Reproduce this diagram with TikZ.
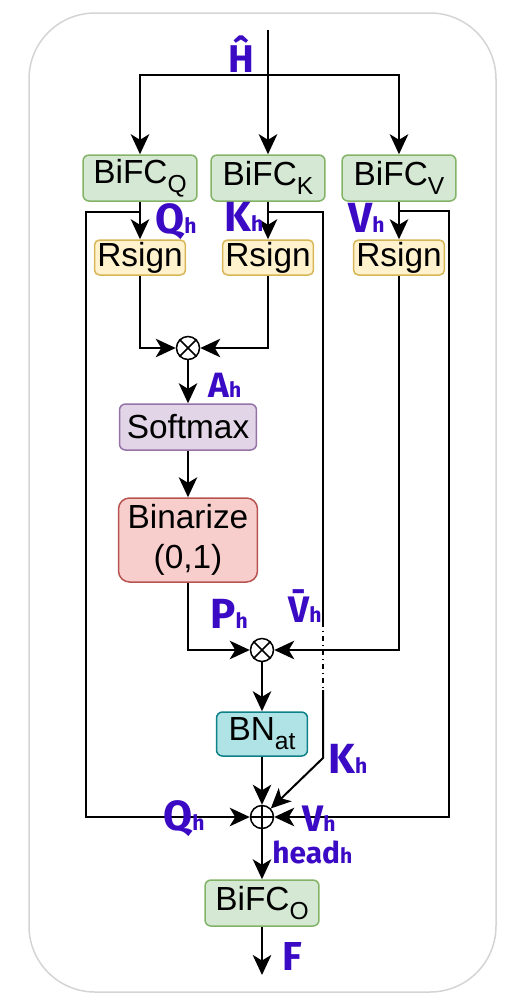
\documentclass[tikz,border=0pt]{standalone}
\usepackage{fontspec}
\setmainfont{Liberation Sans}
\newfontfamily\handfont{Fira Sans}
\usetikzlibrary{arrows.meta,calc}
\definecolor{hand}{RGB}{58,10,196}
\definecolor{gfill}{HTML}{D5E8D4}\definecolor{gline}{HTML}{82B366}
\definecolor{yfill}{HTML}{FFF2CC}\definecolor{yline}{HTML}{D6B656}
\definecolor{pfill}{HTML}{E1D5E7}\definecolor{pline}{HTML}{9673A6}
\definecolor{rfill}{HTML}{F8CECC}\definecolor{rline}{HTML}{B85450}
\definecolor{tfill}{HTML}{B0E3E6}\definecolor{tline}{HTML}{0E8088}
\definecolor{frame}{HTML}{D4D4D4}
\newcommand\subtx[1]{\raisebox{-5pt}{\fontsize{14}{14}\selectfont #1}}
\newcommand\lh{{\fontsize{12}{12}\selectfont h}}
\begin{document}
\begin{tikzpicture}[x=0.02cm,y=-0.02cm,
  box/.style={draw, rounded corners=0.12cm, line width=0.03cm, inner sep=0pt,
    font=\fontsize{19}{22.7}\selectfont, align=center},
  gbox/.style={box, fill=gfill, draw=gline, minimum width=2.28cm, minimum height=0.92cm},
  ybox/.style={box, fill=yfill, draw=yline, minimum width=1.82cm, minimum height=0.70cm, rounded corners=0.1cm},
  pbox/.style={box, fill=pfill, draw=pline, minimum width=2.74cm, minimum height=0.92cm},
  rbox/.style={box, fill=rfill, draw=rline, minimum width=2.78cm, minimum height=1.68cm, rounded corners=0.22cm},
  tbox/.style={box, fill=tfill, draw=tline, minimum width=1.82cm, minimum height=0.88cm},
  ln/.style={line width=0.04cm},
  arr/.style={ln, -{Stealth[length=0.4cm,width=0.37cm,inset=0.11cm]}},
  opc/.style={circle, draw, line width=0.03cm, minimum size=0.46cm, inner sep=0pt, fill=white},
  lab/.style={text=hand, anchor=base west, inner sep=0pt,
    font=\handfont\bfseries\fontsize{24}{24}\selectfont}
]
\useasboundingbox (0,0) rectangle (512,1005);
\draw[frame, line width=0.03cm, rounded corners=1.32cm] (29,13) rectangle (496,992);

% nodes
\node[gbox] (bq) at (140,178) {BiFC\subtx{Q}};
\node[gbox] (bk) at (268,178) {BiFC\subtx{K}};
\node[gbox] (bv) at (399,178) {BiFC\subtx{V}};
\node[ybox] (rq) at (140,257.5) {Rsign};
\node[ybox] (rk) at (268,257.5) {Rsign};
\node[ybox] (rv) at (399,257.5) {Rsign};
\node[opc] (m1) at (188,348) {};
\node[pbox] (sm) at (188,427) {Softmax};
\node[rbox] (bz) at (188,540) {Binarize\\(0,1)};
\node[opc] (m2) at (262,650) {};
\node[tbox] (bn) at (262,734) {BN\subtx{at}};
\node[opc] (pl) at (262,817) {};
\node[gbox] (bo) at (262,903) {BiFC\subtx{O}};

\draw[line width=0.03cm] (m1.north west) -- (m1.south east) (m1.north east) -- (m1.south west);
\draw[line width=0.03cm] (m2.north west) -- (m2.south east) (m2.north east) -- (m2.south west);
\draw[line width=0.03cm] (pl.north) -- (pl.south) (pl.west) -- (pl.east);

% coordinates
\coordinate (in) at (268,30);
\coordinate (sp) at (268,75);
\coordinate (qs) at (140,212);
\coordinate (qc) at (86,817);
\coordinate (ks) at (268,212);
\coordinate (k1) at (323,622);
\coordinate (k2) at (323,690);
\coordinate (k3) at (323,758);
\coordinate (vs) at (399,211);
\coordinate (vc) at (449,817);
\coordinate (out) at (262,975);

% connectors
\draw[arr] (in) -- (bk);
\draw[arr] (sp) -| (bq);
\draw[arr] (sp) -| (bv);
\draw[arr] (bq) -- (rq);
\draw[arr] (bk) -- (rk);
\draw[arr] (bv) -- (rv);
\draw[arr] (rq.south) |- (m1);
\draw[arr] (rk.south) |- (m1);
\draw[arr] (m1) -- (sm);
\draw[arr] (sm) -- (bz);
\draw[arr] (bz.south) |- (m2);
\draw[arr] (rv.south) |- (m2);
\draw[arr] (m2) -- (bn);
\draw[arr] (bn) -- (pl);
\draw[arr] (pl) -- (bo);
\draw[arr] (bo) -- (out);
\draw[arr] (qs) -| (qc) -- (pl);
\draw[arr] (vs) -| (vc) -- (pl);
\draw[ln] (ks) -| (k1);
\draw[ln, dash pattern=on 0.1cm off 0.08cm on 0.02cm off 0.08cm] (k1) -- (k2);
\draw[arr] (k2) -- (k3) -- (pl);

% handwritten labels
\node[lab, font=\handfont\bfseries\fontsize{22}{22}\selectfont] (lH) at (228,72) {Ĥ};
\node[lab] (lq1) at (155,233) {Q\lh};
\node[lab] (lk1) at (224,231) {K\lh};
\node[lab] (lv1) at (348,232) {V\lh};
\node[lab, font=\handfont\bfseries\fontsize{20}{20}\selectfont] (la) at (208,397) {A\lh};
\node[lab] (lp) at (210,628) {P\lh};
\node[lab, font=\handfont\bfseries\fontsize{21}{21}\selectfont] (lvb) at (288,622) {\=V\lh};
\node[lab] (lk2) at (328,773) {K\lh};
\node[lab] (lq2) at (163,830) {Q\lh};
\node[lab, font=\handfont\bfseries\fontsize{21}{21}\selectfont] (lv2) at (302,831) {V\lh};
\node[lab, font=\handfont\bfseries\fontsize{17}{17}\selectfont] (lhd) at (272,863) {head\lh};
\node[lab, font=\handfont\bfseries\fontsize{23}{23}\selectfont] (lf) at (282,970) {F};
\end{tikzpicture}
\end{document}
